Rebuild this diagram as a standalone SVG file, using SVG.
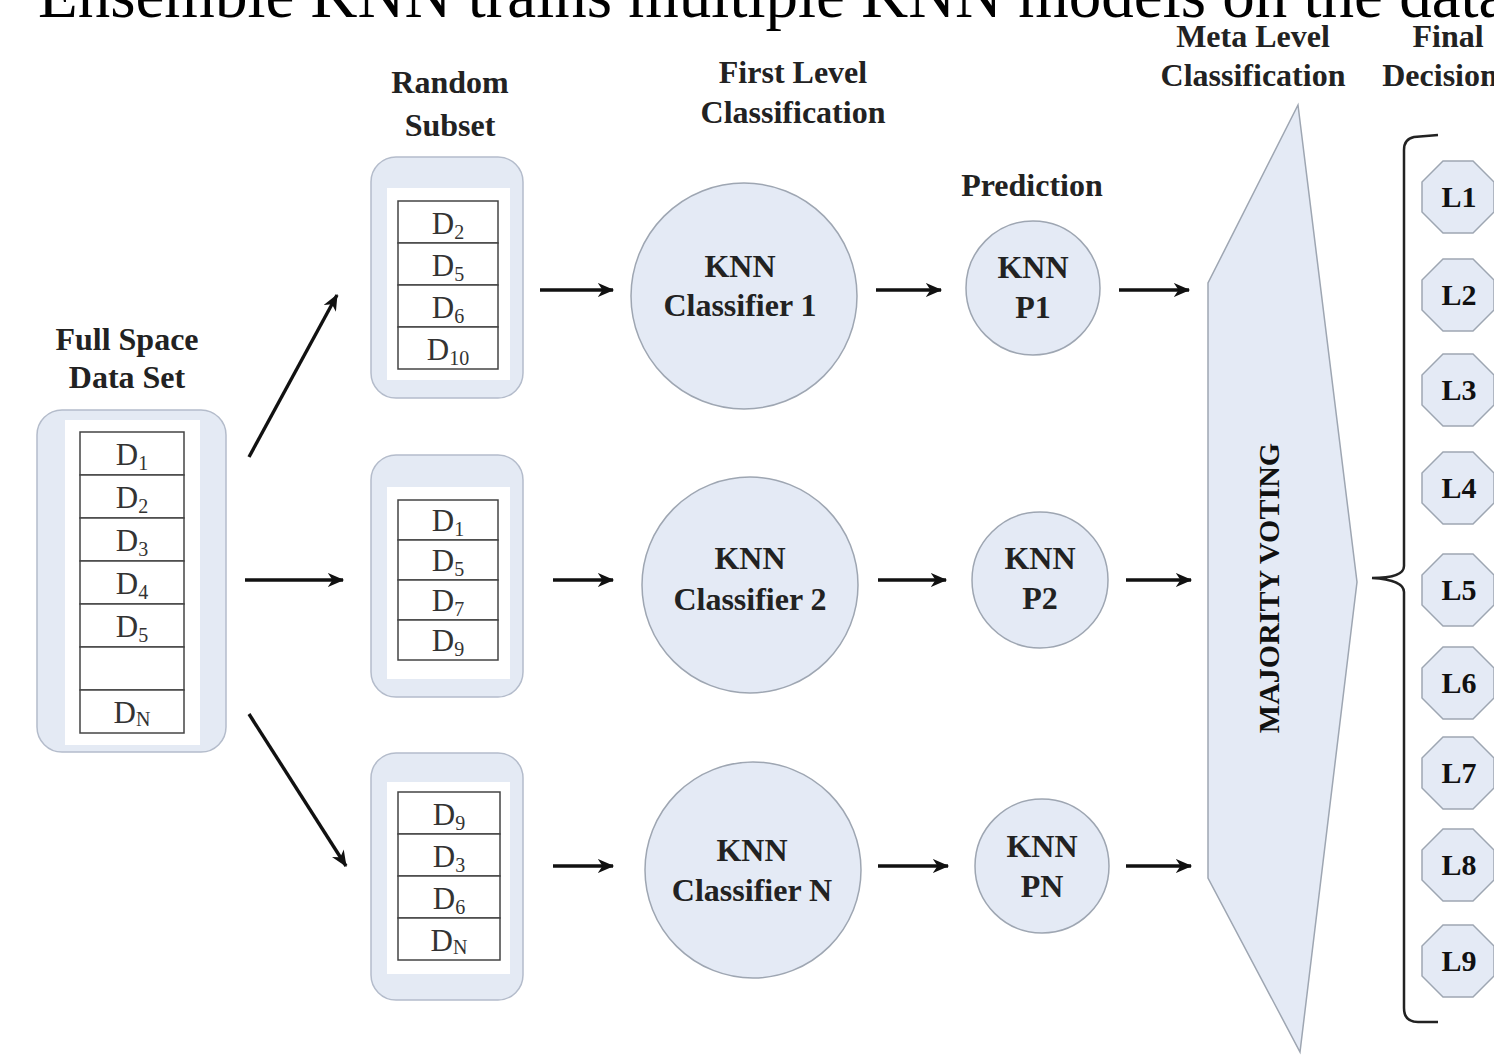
<svg xmlns="http://www.w3.org/2000/svg" width="1494" height="1055" viewBox="0 0 1494 1055">
<defs>
<style>
.hd{font-family:"Liberation Serif","Times New Roman",serif;font-weight:bold;font-size:32px;fill:#222;text-anchor:middle}
.lb{font-family:"Liberation Serif","Times New Roman",serif;font-weight:bold;font-size:32px;fill:#222;text-anchor:middle}
.oct{font-family:"Liberation Serif","Times New Roman",serif;font-weight:bold;font-size:30px;fill:#111;text-anchor:middle}
.dt{font-family:"Liberation Serif","Times New Roman",serif;font-size:31px;fill:#333;text-anchor:middle}
.sub{font-size:20px}
.box{fill:#e4eaf4;stroke:#b4bccb;stroke-width:1.5}
.inner{fill:#ffffff}
.cell{fill:#ffffff;stroke:#444;stroke-width:1.5}
.shape{fill:#e4eaf5;stroke:#9ea6b2;stroke-width:1.5}
.arr{stroke:#111;stroke-width:3.4;fill:none;marker-end:url(#ah)}
.br{stroke:#222;stroke-width:2.5;fill:none}
</style>
<marker id="ah" viewBox="0 0 14 12" refX="13" refY="6" markerWidth="17" markerHeight="14" markerUnits="userSpaceOnUse" orient="auto">
<path d="M0,0 L14,6 L0,12 L4,6 z" fill="#111"/>
</marker>
</defs>
<rect width="1494" height="1055" fill="#ffffff"/>
<text x="38" y="17" font-family="Liberation Serif, Times New Roman, serif" font-size="65" fill="#000">Ensemble KNN trains multiple KNN models on the data</text>

<g id="headings">
<text class="hd" x="127" y="350">Full Space</text>
<text class="hd" x="127" y="388">Data Set</text>
<text class="hd" x="450" y="93">Random</text>
<text class="hd" x="450" y="136">Subset</text>
<text class="hd" x="793" y="83">First Level</text>
<text class="hd" x="793" y="123">Classification</text>
<text class="hd" x="1032" y="196">Prediction</text>
<text class="hd" x="1253" y="47">Meta Level</text>
<text class="hd" x="1253" y="86">Classification</text>
<text class="hd" x="1448" y="47">Final</text>
<text class="hd" x="1440" y="86">Decision</text>
</g>

<g id="full-dataset">
<rect class="box" x="37" y="410" width="189" height="342" rx="25"/>
<rect class="inner" x="65" y="420" width="135" height="325"/>
<rect class="cell" x="80" y="432" width="104" height="43"/>
<rect class="cell" x="80" y="475" width="104" height="43"/>
<rect class="cell" x="80" y="518" width="104" height="43"/>
<rect class="cell" x="80" y="561" width="104" height="43"/>
<rect class="cell" x="80" y="604" width="104" height="43"/>
<rect class="cell" x="80" y="647" width="104" height="43"/>
<rect class="cell" x="80" y="690" width="104" height="43"/>
<text class="dt" x="132" y="465">D<tspan class="sub" dy="5">1</tspan></text>
<text class="dt" x="132" y="508">D<tspan class="sub" dy="5">2</tspan></text>
<text class="dt" x="132" y="551">D<tspan class="sub" dy="5">3</tspan></text>
<text class="dt" x="132" y="594">D<tspan class="sub" dy="5">4</tspan></text>
<text class="dt" x="132" y="637">D<tspan class="sub" dy="5">5</tspan></text>
<text class="dt" x="132" y="723">D<tspan class="sub" dy="3">N</tspan></text>
</g>

<g id="subset-1">
<rect class="box" x="371" y="157" width="152" height="241" rx="25"/>
<rect class="inner" x="387" y="188" width="123" height="192"/>
<rect class="cell" x="398" y="201" width="100" height="42"/>
<rect class="cell" x="398" y="243" width="100" height="42"/>
<rect class="cell" x="398" y="285" width="100" height="42"/>
<rect class="cell" x="398" y="327" width="100" height="42"/>
<text class="dt" x="448" y="234">D<tspan class="sub" dy="5">2</tspan></text>
<text class="dt" x="448" y="276">D<tspan class="sub" dy="5">5</tspan></text>
<text class="dt" x="448" y="318">D<tspan class="sub" dy="5">6</tspan></text>
<text class="dt" x="448" y="360">D<tspan class="sub" dy="5">10</tspan></text>
</g>

<g id="subset-2">
<rect class="box" x="371" y="455" width="152" height="242" rx="25"/>
<rect class="inner" x="387" y="487" width="123" height="192"/>
<rect class="cell" x="398" y="500" width="100" height="40"/>
<rect class="cell" x="398" y="540" width="100" height="40"/>
<rect class="cell" x="398" y="580" width="100" height="40"/>
<rect class="cell" x="398" y="620" width="100" height="40"/>
<text class="dt" x="448" y="531">D<tspan class="sub" dy="5">1</tspan></text>
<text class="dt" x="448" y="571">D<tspan class="sub" dy="5">5</tspan></text>
<text class="dt" x="448" y="611">D<tspan class="sub" dy="5">7</tspan></text>
<text class="dt" x="448" y="651">D<tspan class="sub" dy="5">9</tspan></text>
</g>

<g id="subset-n">
<rect class="box" x="371" y="753" width="152" height="247" rx="25"/>
<rect class="inner" x="387" y="782" width="123" height="192"/>
<rect class="cell" x="398" y="792" width="102" height="42"/>
<rect class="cell" x="398" y="834" width="102" height="42"/>
<rect class="cell" x="398" y="876" width="102" height="42"/>
<rect class="cell" x="398" y="918" width="102" height="42"/>
<text class="dt" x="449" y="825">D<tspan class="sub" dy="5">9</tspan></text>
<text class="dt" x="449" y="867">D<tspan class="sub" dy="5">3</tspan></text>
<text class="dt" x="449" y="909">D<tspan class="sub" dy="5">6</tspan></text>
<text class="dt" x="449" y="951">D<tspan class="sub" dy="3">N</tspan></text>
</g>

<g id="classifier-1">
<circle class="shape" cx="744" cy="296" r="113"/>
<text class="lb" x="740" y="277">KNN</text>
<text class="lb" x="740" y="316">Classifier 1</text>
</g>
<g id="classifier-2">
<circle class="shape" cx="750" cy="585" r="108"/>
<text class="lb" x="750" y="569">KNN</text>
<text class="lb" x="750" y="610">Classifier 2</text>
</g>
<g id="classifier-n">
<circle class="shape" cx="753" cy="870" r="108"/>
<text class="lb" x="752" y="861">KNN</text>
<text class="lb" x="752" y="901">Classifier N</text>
</g>

<g id="pred-1">
<circle class="shape" cx="1033" cy="288" r="67"/>
<text class="lb" x="1033" y="278">KNN</text>
<text class="lb" x="1033" y="318">P1</text>
</g>
<g id="pred-2">
<circle class="shape" cx="1040" cy="580" r="68"/>
<text class="lb" x="1040" y="569">KNN</text>
<text class="lb" x="1040" y="609">P2</text>
</g>
<g id="pred-n">
<circle class="shape" cx="1042" cy="866" r="67"/>
<text class="lb" x="1042" y="857">KNN</text>
<text class="lb" x="1042" y="897">PN</text>
</g>

<g id="majority-voting">
<polygon class="shape" points="1298,105 1357,582 1300,1052 1208,878 1208,283"/>
<text class="oct" font-size="30" transform="translate(1279,588) rotate(-90)">MAJORITY VOTING</text>
</g>

<g id="final-decision">
<path class="br" d="M1438,135 L1414,137 Q1404,139 1404,150 L1404,566 Q1404,578 1372,578 Q1404,580 1404,592 L1404,1008 Q1404,1022 1418,1022 L1438,1022"/>
<g id="L1"><polygon class="shape" points="1443,161 1473,161 1494,182 1494,212 1473,233 1443,233 1422,212 1422,182"/><text class="oct" x="1459" y="207">L1</text></g>
<g id="L2"><polygon class="shape" points="1443,259 1473,259 1494,280 1494,310 1473,331 1443,331 1422,310 1422,280"/><text class="oct" x="1459" y="305">L2</text></g>
<g id="L3"><polygon class="shape" points="1443,354 1473,354 1494,375 1494,405 1473,426 1443,426 1422,405 1422,375"/><text class="oct" x="1459" y="400">L3</text></g>
<g id="L4"><polygon class="shape" points="1443,452 1473,452 1494,473 1494,503 1473,524 1443,524 1422,503 1422,473"/><text class="oct" x="1459" y="498">L4</text></g>
<g id="L5"><polygon class="shape" points="1443,554 1473,554 1494,575 1494,605 1473,626 1443,626 1422,605 1422,575"/><text class="oct" x="1459" y="600">L5</text></g>
<g id="L6"><polygon class="shape" points="1443,647 1473,647 1494,668 1494,698 1473,719 1443,719 1422,698 1422,668"/><text class="oct" x="1459" y="693">L6</text></g>
<g id="L7"><polygon class="shape" points="1443,737 1473,737 1494,758 1494,788 1473,809 1443,809 1422,788 1422,758"/><text class="oct" x="1459" y="783">L7</text></g>
<g id="L8"><polygon class="shape" points="1443,829 1473,829 1494,850 1494,880 1473,901 1443,901 1422,880 1422,850"/><text class="oct" x="1459" y="875">L8</text></g>
<g id="L9"><polygon class="shape" points="1443,925 1473,925 1494,946 1494,976 1473,997 1443,997 1422,976 1422,946"/><text class="oct" x="1459" y="971">L9</text></g>
</g>

<g id="connectors">
<line class="arr" x1="249" y1="457" x2="337" y2="295"/>
<line class="arr" x1="245" y1="580" x2="343" y2="580"/>
<line class="arr" x1="249" y1="714" x2="346" y2="866"/>
<line class="arr" x1="540" y1="290" x2="613" y2="290"/>
<line class="arr" x1="553" y1="580" x2="613" y2="580"/>
<line class="arr" x1="553" y1="866" x2="613" y2="866"/>
<line class="arr" x1="876" y1="290" x2="941" y2="290"/>
<line class="arr" x1="878" y1="580" x2="946" y2="580"/>
<line class="arr" x1="878" y1="866" x2="948" y2="866"/>
<line class="arr" x1="1119" y1="290" x2="1189" y2="290"/>
<line class="arr" x1="1126" y1="580" x2="1191" y2="580"/>
<line class="arr" x1="1126" y1="866" x2="1191" y2="866"/>
</g>
</svg>
